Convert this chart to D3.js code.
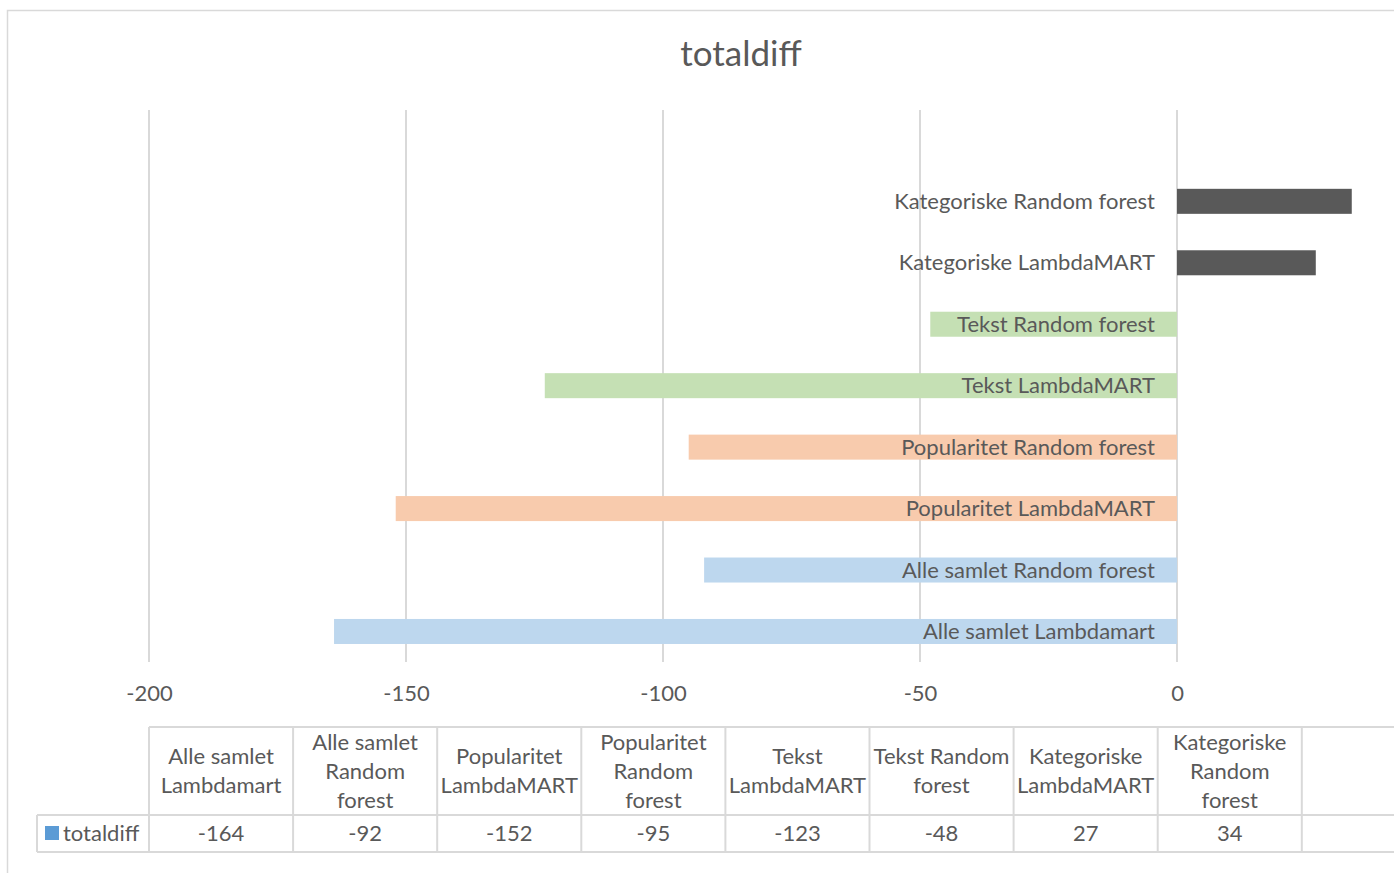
<!DOCTYPE html>
<html>
<head>
<meta charset="utf-8">
<script src="https://cdn.jsdelivr.net/npm/d3@7/dist/d3.min.js"></script>
<style>
  html, body { margin: 0; padding: 0; background: #fff; }
  svg { display: block; font-family: Lato, "Open Sans", sans-serif; }
</style>
</head>
<body>
<svg id="chart" width="1394" height="873"></svg>
<script>
// Categories, bottom to top as in the data table
const categories = [
  "Alle samlet Lambdamart",
  "Alle samlet Random forest",
  "Popularitet LambdaMART",
  "Popularitet Random forest",
  "Tekst LambdaMART",
  "Tekst Random forest",
  "Kategoriske LambdaMART",
  "Kategoriske Random forest"
];
const values = [-164, -92, -152, -95, -123, -48, 27, 34];
const barColors = ["#BDD7EE", "#BDD7EE", "#F8CBAD", "#F8CBAD", "#C5E0B4", "#C5E0B4", "#595959", "#595959"];
// Wrapped header text for the data table
const headerLines = [
  ["Alle samlet", "Lambdamart"],
  ["Alle samlet", "Random", "forest"],
  ["Popularitet", "LambdaMART"],
  ["Popularitet", "Random", "forest"],
  ["Tekst", "LambdaMART"],
  ["Tekst Random", "forest"],
  ["Kategoriske", "LambdaMART"],
  ["Kategoriske", "Random", "forest"]
];
const gridValues = [-200, -150, -100, -50, 0, 50];
const tickLabels = [-200, -150, -100, -50, 0];
const seriesName = "totaldiff";
const title = "totaldiff";

const data = categories.map((c, i) => ({ cat: c, value: values[i], color: barColors[i] }));

const svg = d3.select("#chart");
const textColor = "#595959";
const gridColor = "#D9D9D9";
const fs = 22;

// Chart frame
svg.append("rect")
  .attr("x", 7.5).attr("y", 10.5)
  .attr("width", 1500).attr("height", 1000)
  .attr("fill", "none").attr("stroke", gridColor).attr("stroke-width", 1.5);

// Title
svg.append("text")
  .attr("x", 741).attr("y", 66)
  .attr("text-anchor", "middle")
  .attr("fill", textColor)
  .attr("font-size", 35)
  .text(title);

// Scales
const x = d3.scaleLinear().domain([-200, 50]).range([149, 1434]);
const y = d3.scaleBand()
  .domain(categories.slice().reverse())
  .range([170.6, 662.2])
  .paddingInner(0.593)
  .paddingOuter(0.2965);

// Vertical gridlines
svg.append("g").selectAll("line")
  .data(gridValues)
  .join("line")
  .attr("x1", d => x(d)).attr("x2", d => x(d))
  .attr("y1", 110).attr("y2", 662)
  .attr("stroke", gridColor).attr("stroke-width", 2);

// Bars
svg.append("g").selectAll("rect")
  .data(data)
  .join("rect")
  .attr("x", d => x(Math.min(0, d.value)))
  .attr("width", d => Math.abs(x(d.value) - x(0)))
  .attr("y", d => y(d.cat))
  .attr("height", y.bandwidth())
  .attr("fill", d => d.color);

// Category labels beside the zero line
svg.append("g").selectAll("text")
  .data(data)
  .join("text")
  .attr("x", x(0) - 22)
  .attr("y", d => y(d.cat) + y.bandwidth() / 2)
  .attr("dy", "0.35em")
  .attr("text-anchor", "end")
  .attr("fill", textColor)
  .attr("font-size", fs)
  .text(d => d.cat);

// Value axis labels
const axis = svg.append("g")
  .attr("transform", "translate(0,693)")
  .call(d3.axisBottom(x).tickValues(tickLabels).tickFormat(d => String(d)).tickSize(0).tickPadding(0));
axis.select(".domain").remove();
axis.selectAll("text")
  .attr("fill", textColor)
  .attr("font-size", fs)
  .attr("font-family", "Lato, 'Open Sans', sans-serif")
  .attr("dy", "0.35em");

// Data table
const colW = 144.1;
const tableLeft = x(-200);
const col = d3.scaleLinear().domain([0, 1]).range([tableLeft, tableLeft + colW]);
const rowTop = 727, rowMid = 815, rowBot = 852;
const table = svg.append("g").attr("stroke", gridColor).attr("stroke-width", 2);
table.append("line").attr("x1", tableLeft).attr("x2", 1394).attr("y1", rowTop).attr("y2", rowTop);
table.append("line").attr("x1", 37).attr("x2", 1394).attr("y1", rowMid).attr("y2", rowMid);
table.append("line").attr("x1", 37).attr("x2", 1394).attr("y1", rowBot).attr("y2", rowBot);
table.append("line").attr("x1", 37).attr("x2", 37).attr("y1", rowMid).attr("y2", rowBot);
table.selectAll("line.col")
  .data(d3.range(categories.length + 2))
  .join("line")
  .attr("class", "col")
  .attr("x1", i => col(i)).attr("x2", i => col(i))
  .attr("y1", rowTop).attr("y2", rowBot);

// Header cells
const lineH = 29;
const headerMid = (rowTop + rowMid) / 2;
const headers = svg.append("g")
  .attr("fill", textColor).attr("font-size", fs).attr("text-anchor", "middle");
headerLines.forEach((lines, i) => {
  const cx = col(i + 0.5);
  const t = headers.append("text").attr("x", cx);
  lines.forEach((ln, j) => {
    t.append("tspan")
      .attr("x", cx)
      .attr("y", headerMid + (j - (lines.length - 1) / 2) * lineH)
      .attr("dy", "0.35em")
      .text(ln);
  });
});

// Value cells
svg.append("g").selectAll("text")
  .data(data)
  .join("text")
  .attr("x", (d, i) => col(i + 0.5))
  .attr("y", (rowMid + rowBot) / 2)
  .attr("dy", "0.35em")
  .attr("text-anchor", "middle")
  .attr("fill", textColor)
  .attr("font-size", fs)
  .text(d => d.value);

// Series legend key
svg.append("rect")
  .attr("x", 45).attr("y", 826).attr("width", 14).attr("height", 14)
  .attr("fill", "#5B9BD5");
svg.append("text")
  .attr("x", 63).attr("y", (rowMid + rowBot) / 2)
  .attr("dy", "0.35em")
  .attr("fill", textColor)
  .attr("font-size", fs)
  .text(seriesName);
</script>
</body>
</html>
